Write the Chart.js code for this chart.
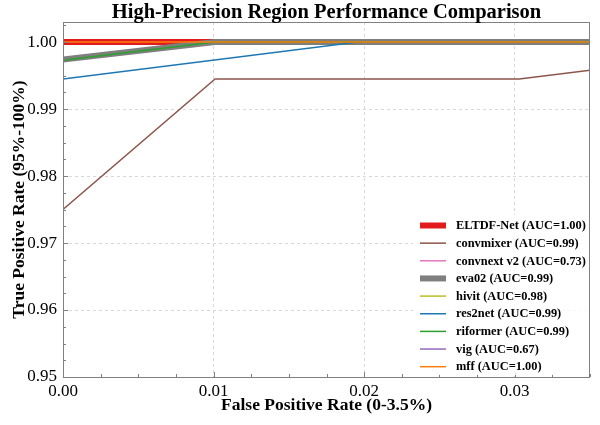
<!DOCTYPE html>
<html><head><meta charset="utf-8">
<script src="https://cdn.jsdelivr.net/npm/chart.js@4.4.1/dist/chart.umd.min.js"></script>
<style>html,body{margin:0;padding:0;background:#fff}#wrap{width:600px;height:425px}</style>
</head><body><div id="wrap"><canvas id="c" width="600" height="425"></canvas></div>
<script>
// ---- data ----
const seriesNames = ['ELTDF-Net','convmixer','convnext v2','eva02','hivit','res2net','riformer','vig','mff'];
const aucValues = ['1.00','0.99','0.73','0.99','0.98','0.99','0.99','0.67','1.00'];
const eltdfFpr = [0, 0.035];            const eltdfTpr = [1.0, 1.0];
const convmixerFpr = [0, 0.0101, 0.0303, 0.035]; const convmixerTpr = [0.975, 0.9945, 0.9945, 0.9958];
const convnextFpr = [0, 0.035];         const convnextTpr = [0.80, 0.86];
const eva02Fpr = [0, 0.0101, 0.035];    const eva02Tpr = [0.9974, 1.0, 1.0];
const hivitFpr = [0, 0.035];            const hivitTpr = [0.90, 0.94];
const res2netFpr = [0, 0.0196, 0.035];  const res2netTpr = [0.9945, 1.0, 1.0];
const riformerFpr = [0, 0.0101, 0.035]; const riformerTpr = [0.9973, 1.0, 1.0];
const vigFpr = [0, 0.035];              const vigTpr = [0.70, 0.78];
const mffFpr = [0, 0.035];              const mffTpr = [1.0, 1.0];
const xTickValues = [0, 0.01, 0.02, 0.03];
const yTickValues = [0.95, 0.96, 0.97, 0.98, 0.99, 1.00];

// ---- styles ----
const colors = ['#e31a1c','#8c564b','#e377c2','#7f7f7f','#bcbd22','#1f77b4','#2ca02c','#9467bd','#ff7f0e'];
const widths = [6, 1.5, 1.5, 6, 1.5, 1.5, 1.5, 1.5, 1.5];
const fprs = [eltdfFpr, convmixerFpr, convnextFpr, eva02Fpr, hivitFpr, res2netFpr, riformerFpr, vigFpr, mffFpr];
const tprs = [eltdfTpr, convmixerTpr, convnextTpr, eva02Tpr, hivitTpr, res2netTpr, riformerTpr, vigTpr, mffTpr];
const SERIF = '"Liberation Serif", "Times New Roman", serif';

const datasets = seriesNames.map((n, i) => ({
  label: n + ' (AUC=' + aucValues[i] + ')',
  data: fprs[i].map((x, k) => ({x: x, y: tprs[i][k]})),
  borderColor: colors[i], backgroundColor: colors[i],
  borderWidth: widths[i], pointRadius: 0, tension: 0, fill: false,
  order: -i
}));

const decor = {
  id: 'decor',
  afterDatasetsDraw(chart) {
    const {ctx, chartArea: a, scales: {x, y}} = chart;
    ctx.save();
    // frame
    ctx.strokeStyle = '#808080'; ctx.lineWidth = 1;
    ctx.strokeRect(a.left + 0.5, a.top + 0.5, a.right - a.left - 1, a.bottom - a.top);
    // inward ticks (major + minor)
    ctx.beginPath();
    for (let k = 0; k <= 14; k++) {
      const v = k * 0.0025, px = Math.round(x.getPixelForValue(v)) + 0.5;
      const len = (k % 4 === 0) ? 5 : 3;
      ctx.moveTo(px, a.bottom); ctx.lineTo(px, a.bottom - len);
    }
    for (let k = 0; k <= 21; k++) {
      const v = 0.95 + k * 0.0025, py = Math.round(y.getPixelForValue(v)) + 0.5;
      const len = (k % 4 === 0) ? 5 : 3;
      ctx.moveTo(a.left, py); ctx.lineTo(a.left + len, py);
    }
    ctx.stroke();
    // legend
    const lx = 413, ly = 215, lw = 176, lh = 160;
    ctx.fillStyle = 'rgba(255,255,255,0.8)';
    ctx.fillRect(lx, ly, lw, lh);
    ctx.font = 'bold 12.4px ' + SERIF;
    ctx.textBaseline = 'middle'; ctx.textAlign = 'left';
    datasets.forEach((d, i) => {
      const cy = 225.5 + i * 17.65;
      ctx.strokeStyle = d.borderColor; ctx.lineWidth = d.borderWidth;
      ctx.beginPath(); ctx.moveTo(420, cy); ctx.lineTo(446, cy); ctx.stroke();
      ctx.fillStyle = '#000';
      ctx.fillText(d.label, 456, cy + 0.5);
    });
    // title
    ctx.font = 'bold 20.5px ' + SERIF;
    ctx.textAlign = 'center'; ctx.textBaseline = 'middle';
    ctx.fillStyle = '#000';
    ctx.fillText('High-Precision Region Performance Comparison', (a.left + a.right) / 2, 13);
    ctx.restore();
  }
};

new Chart(document.getElementById('c'), {
  type: 'line',
  data: {datasets: datasets},
  plugins: [decor],
  options: {
    responsive: false, animation: false,
    layout: {padding: {top: 22, right: 10, left: 0, bottom: 0}},
    plugins: {legend: {display: false}, title: {display: false}, tooltip: {enabled: false}},
    scales: {
      x: {
        type: 'linear', min: 0, max: 0.035,
        afterFit: s => { s.height = 48; },
        afterBuildTicks: s => { s.ticks = xTickValues.map(v => ({value: v})); },
        ticks: {includeBounds: false, padding: 4, color: '#000', font: {family: SERIF, size: 17},
                callback: v => Number(v).toFixed(2), maxRotation: 0},
        grid: {color: '#cfcfcf', lineWidth: 0.8, drawTicks: false},
        border: {display: false, dash: [3, 3]},
        title: {display: true, text: 'False Positive Rate (0-3.5%)', color: '#000',
                font: {family: SERIF, size: 17.5, weight: 'bold'}, padding: {top: 0, bottom: 9}}
      },
      y: {
        type: 'linear', min: 0.95, max: 1.003,
        afterFit: s => { s.width = 63; },
        afterBuildTicks: s => { s.ticks = yTickValues.map(v => ({value: v})); },
        ticks: {includeBounds: false, padding: 6, color: '#000', font: {family: SERIF, size: 17},
                callback: v => Number(v).toFixed(2)},
        grid: {color: '#cfcfcf', lineWidth: 0.8, drawTicks: false},
        border: {display: false, dash: [3, 3]},
        title: {display: true, text: 'True Positive Rate (95%-100%)', color: '#000',
                font: {family: SERIF, size: 17.5, weight: 'bold'}, padding: {top: 9, bottom: 0}}
      }
    }
  }
});
</script></body></html>
